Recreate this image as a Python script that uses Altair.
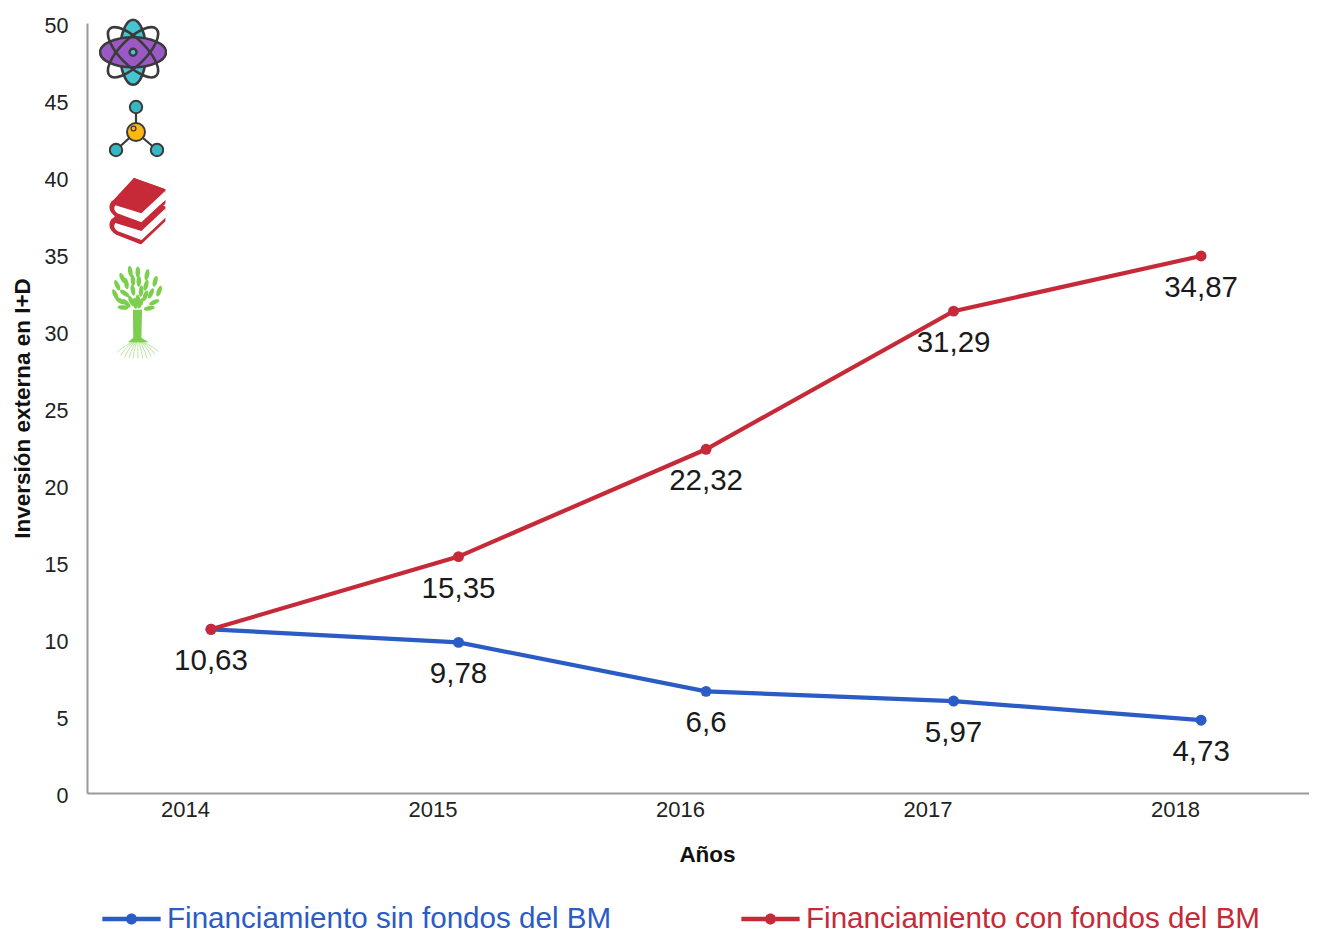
import base64
import altair as alt
import pandas as pd

years = [2014, 2015, 2016, 2017, 2018]
sin_fondos = [10.63, 9.78, 6.6, 5.97, 4.73]
con_fondos = [10.63, 15.35, 22.32, 31.29, 34.87]
sin_labels = ["10,63", "9,78", "6,6", "5,97", "4,73"]
con_labels = ["", "15,35", "22,32", "31,29", "34,87"]
SIN = "Financiamiento sin fondos del BM"
CON = "Financiamiento con fondos del BM"
BLUE = "#2b5bc4"
RED = "#c62a38"
FONT = "Liberation Sans"

rows = []
for y, v, l in zip(years, sin_fondos, sin_labels):
    rows.append({"year": y, "value": v, "label": l, "serie": SIN})
for y, v, l in zip(years, con_fondos, con_labels):
    rows.append({"year": y, "value": v, "label": l, "serie": CON})
df = pd.DataFrame(rows)

INK = "#3b3b3b"
atom = f'''<svg xmlns="http://www.w3.org/2000/svg" viewBox="0 0 68 69">
<ellipse cx="34" cy="34.5" rx="13" ry="32.5" fill="#45c4d2" stroke="{INK}" stroke-width="2.6"/>
<ellipse cx="34" cy="34.5" rx="33" ry="15" fill="#9b59c6" stroke="{INK}" stroke-width="2.6"/>
<ellipse cx="34" cy="34.5" rx="33" ry="13" fill="none" stroke="{INK}" stroke-width="2.6" transform="rotate(45 34 34.5)"/>
<ellipse cx="34" cy="34.5" rx="33" ry="13" fill="none" stroke="{INK}" stroke-width="2.6" transform="rotate(-45 34 34.5)"/>
<circle cx="34" cy="34.5" r="3.5" fill="#45c4d2" stroke="{INK}" stroke-width="2.4"/>
</svg>'''

molecule = f'''<svg xmlns="http://www.w3.org/2000/svg" viewBox="0 0 55 59">
<path d="M27 33 L27 8 M27 33 L7 51 M27 33 L48 51" stroke="{INK}" stroke-width="2.2"/>
<circle cx="27" cy="8" r="6.2" fill="#35b8c6" stroke="{INK}" stroke-width="2"/>
<circle cx="7" cy="51" r="6.2" fill="#35b8c6" stroke="{INK}" stroke-width="2"/>
<circle cx="48" cy="51" r="6.2" fill="#35b8c6" stroke="{INK}" stroke-width="2"/>
<circle cx="27" cy="33" r="9" fill="#fdb813" stroke="{INK}" stroke-width="2"/>
<circle cx="24.5" cy="29.5" r="2.4" fill="none" stroke="{INK}" stroke-width="1.3"/>
</svg>'''

def book(dy):
    return f'''<g transform="translate(0 {dy})">
<path d="M160 20 L258 55 L258 66 L183 140 L183 158 L258 88 L258 100 L182 172 L105 142 Q78 125 85 102 Q88 92 97 88 Z" fill="{RED}"/>
<path d="M183 130 L258 60 L258 88 L183 158 L108 130 Q92 118 102 105 Z" fill="#ffffff"/>
<path d="M258 55 L182 128 L92 95 L160 20 Z" fill="{RED}"/>
</g>'''

books = f'''<svg xmlns="http://www.w3.org/2000/svg" viewBox="80 15 185 215">{book(55)}{book(0)}</svg>'''

leaf_positions = [
    (175, 310, 0), (152, 308, -10), (203, 318, 12), (128, 328, -25), (228, 338, 15),
    (112, 350, -25), (140, 345, -10), (178, 338, 0), (160, 335, -5), (200, 350, 15),
    (240, 368, 20), (106, 378, -25), (160, 365, -10), (185, 368, 5), (215, 375, 25),
    (135, 375, -55), (175, 395, -3), (198, 382, 20), (155, 398, -25), (225, 402, 65),
    (122, 398, -60), (210, 420, 80), (130, 418, -85), (183, 405, 25), (167, 405, -8),
    (140, 405, -45),
]
leaves = "".join(
    f'<ellipse cx="{x}" cy="{y}" rx="7" ry="17" fill="#7ccf4e" transform="rotate({a} {x} {y})"/>'
    for x, y, a in leaf_positions
)
root_ends = [(112, 555), (122, 565), (135, 570), (148, 572), (160, 574), (175, 574),
             (190, 574), (203, 572), (216, 568), (228, 562), (238, 552)]
roots = "".join(
    f'<path d="M175 520 Q{(x + 175) / 2:.0f} 525 {x} {y}" fill="none" stroke="#a9de8b" stroke-width="2.4"/>'
    for x, y in root_ends
)
tree = f'''<svg xmlns="http://www.w3.org/2000/svg" viewBox="95 285 155 290">
{roots}{leaves}
<path d="M160 425 L188 425 L186 510 L208 524 L145 524 L161 510 Z" fill="#7ccf4e"/>
</svg>'''

icon_svgs = [atom, molecule, books, tree]
icon_years = [2013.685, 2013.699, 2013.705, 2013.701]
icon_values = [48.1, 43.15, 37.8, 31.27]
icon_w = [68, 55, 60, 52]
icon_h = [69, 59, 69, 95]

x_scale = alt.Scale(domain=[2013.499, 2018.436], nice=False, zero=False)
y_scale = alt.Scale(domain=[0, 50], nice=False)

LEGEND_SYMBOL = (
    "M-1,-0.075 L1,-0.075 L1,0.075 L-1,0.075 Z "
    "M0.19,0 A0.19,0.19 0 1 1 -0.19,0 A0.19,0.19 0 1 1 0.19,0 Z"
)
color = alt.Color(
    "serie:N",
    sort=[SIN, CON],
    scale=alt.Scale(domain=[SIN, CON], range=[BLUE, RED]),
    legend=alt.Legend(
        title=None,
        orient="none",
        legendX=15,
        legendY=866,
        direction="horizontal",
        columns=2,
        columnPadding=129,
        symbolType=LEGEND_SYMBOL,
        symbolSize=3400,
        symbolStrokeWidth=0,
        labelFontSize=29.6,
        labelFont=FONT,
        labelLimit=600,
        labelOffset=6,
        labelColor=alt.expr(f"datum.label == '{SIN}' ? '{BLUE}' : '{RED}'"),
    ),
)

base = alt.Chart(df)
x = alt.X(
    "year:Q",
    scale=x_scale,
    title="Años",
    axis=alt.Axis(
        values=years,
        format="d",
        labelOffset=-26,
        labelPadding=6,
        labelFontSize=22,
        labelFont=FONT,
        labelColor="#222222",
        titleFont=FONT,
        titleFontSize=22.5,
        titleFontWeight="bold",
        titleColor="#111111",
        titlePadding=23,
        titleX=620,
        ticks=False,
        grid=False,
        domainColor="#9a9a9a",
        domainWidth=2,
    ),
)
y = alt.Y(
    "value:Q",
    scale=y_scale,
    title="Inversión externa en I+D",
    axis=alt.Axis(
        values=list(range(0, 51, 5)),
        labelFontSize=21.5,
        labelFont=FONT,
        labelColor="#222222",
        labelPadding=19,
        labelOffset=3,
        titleFont=FONT,
        titleFontSize=22.5,
        titleFontWeight="bold",
        titleColor="#111111",
        titlePadding=10,
        ticks=False,
        grid=False,
        domainColor="#9a9a9a",
        domainWidth=2,
    ),
)

lines = base.mark_line(strokeWidth=4.2).encode(x=x, y=y, color=color, order=alt.Order("year:Q"))
points = base.mark_point(filled=True, size=120, opacity=1).encode(x=x, y=y, color=color)
labels = base.transform_filter("datum.label != ''").mark_text(
    dy=32, fontSize=29.5, font=FONT, color="#1a1a1a", baseline="middle"
).encode(x=x, y=y, text="label:N")

layers = [lines, points, labels]
for svg, iy, iv, w, h in zip(icon_svgs, icon_years, icon_values, icon_w, icon_h):
    url = "data:image/svg+xml;base64," + base64.b64encode(svg.encode("utf-8")).decode("ascii")
    icon_df = pd.DataFrame([{"year": iy, "value": iv, "url": url}])
    layers.append(
        alt.Chart(icon_df).mark_image(width=w, height=h, clip=False).encode(
            x=alt.X("year:Q", scale=x_scale),
            y=alt.Y("value:Q", scale=y_scale),
            url="url:N",
        )
    )

chart = (
    alt.layer(*layers)
    .properties(
        width=1222,
        height=770,
        autosize=alt.AutoSizeParams(type="none"),
        padding={"left": 79, "top": 15, "right": 0, "bottom": 142},
        background="white",
    )
    .configure_view(stroke=None)
)
chart.save("out.html", embed_options={"renderer": "svg", "actions": False})
